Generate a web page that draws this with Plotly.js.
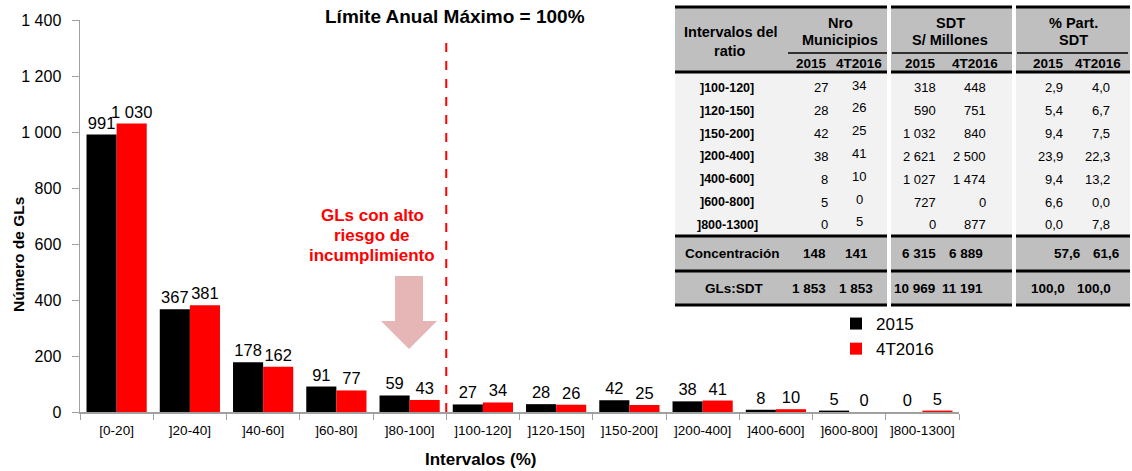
<!DOCTYPE html>
<html>
<head>
<meta charset="utf-8">
<script src="https://cdn.plot.ly/plotly-3.0.1.min.js"></script>
<style>html,body{margin:0;padding:0;background:#fff;}#chart{width:1132px;height:471px;}</style>
</head>
<body>
<div id="chart"></div>
<script>
// ---- Chart data ----
const categories = ["[0-20]","]20-40]","]40-60]","]60-80]","]80-100]","]100-120]","]120-150]","]150-200]","]200-400]","]400-600]","]600-800]","]800-1300]"];
const gls2015 = [991,367,178,91,59,27,28,42,38,8,5,0];
const gls4T2016 = [1030,381,162,77,43,34,26,25,41,10,0,5];
const seriesNames = ["2015","4T2016"];

// ---- Table data ----
const tableIntervals = ["]100-120]","]120-150]","]150-200]","]200-400]","]400-600]","]600-800]","]800-1300]"];
const nroMun2015 = [27,28,42,38,8,5,0];
const nroMun4T2016 = [34,26,25,41,10,0,5];
const sdt2015 = [318,590,1032,2621,1027,727,0];
const sdt4T2016 = [448,751,840,2500,1474,0,877];
const part2015 = [2.9,5.4,9.4,23.9,9.4,6.6,0.0];
const part4T2016 = [4.0,6.7,7.5,22.3,13.2,0.0,7.8];
const concentracion = {label:"Concentración", nro:[148,141], sdt:[6315,6889], part:[57.6,61.6]};
const totalGLs = {label:"GLs:SDT", nro:[1853,1853], sdt:[10969,11191], part:[100.0,100.0]};

// ---- helpers ----
const L=80, R=959, T=20, B=412;
const X = p => (p-L)/(R-L);
const Y = p => (B-p)/(B-T);
function fmtInt(n){ return String(Math.round(n)).replace(/\B(?=(\d{3})+(?!\d))/g,' '); }
function fmtDec(n){ return n.toFixed(1).replace('.',','); }

const FONT = "Liberation Sans, Arial, sans-serif";
const shapes = [];
const annotations = [];
function txt(x,y,text,opt){
  opt = opt||{};
  annotations.push({xref:'paper',yref:'paper',x:X(x),y:Y(y),text:text,showarrow:false,
    xanchor:opt.xa||'center',yanchor:'middle',
    font:{family:FONT,size:opt.size||12.5,color:opt.color||'#000'}});
}
function rect(x0,y0,x1,y1,color){
  shapes.push({type:'rect',xref:'paper',yref:'paper',x0:X(x0),x1:X(x1),y0:Y(y0),y1:Y(y1),
    fillcolor:color,line:{width:0},layer:'above'});
}
function hline(x0,x1,y,w){
  shapes.push({type:'line',xref:'paper',yref:'paper',x0:X(x0),x1:X(x1),y0:Y(y),y1:Y(y),
    line:{color:'#000',width:w},layer:'above'});
}

// ---- table drawing ----
const TL=675, TR=1130;
rect(TL,7,TR,72,'#bfbfbf');
rect(TL,72,TR,236,'#f2f2f2');
rect(TL,236,TR,305,'#bfbfbf');
[7,72,236,271,305].forEach(y=>hline(TL,TR,y,3));
hline(788,887,53,1.5); hline(892,1012,53,1.5); hline(1017,1128,53,1.5);
rect(887,4,891,308,'#ffffff');
rect(1012,4,1016,308,'#ffffff');

const HS = 14.5;
txt(730,32,'<b>Intervalos del</b>',{size:HS}); txt(730,51,'<b>ratio</b>',{size:HS});
txt(840,23,'<b>Nro</b>',{size:HS}); txt(840,40,'<b>Municipios</b>',{size:HS});
txt(950,23,'<b>SDT</b>',{size:HS}); txt(950,40,'<b>S/ Millones</b>',{size:HS});
txt(1073,23,'<b>% Part.</b>',{size:HS}); txt(1073,40,'<b>SDT</b>',{size:HS});
[[811,0],[859,1],[920,0],[975,1],[1048,0],[1098,1]].forEach(([x,i])=>txt(x,63,'<b>'+seriesNames[i]+'</b>',{size:13.5}));

tableIntervals.forEach((lab,i)=>{
  const y = 88 + i*22.8;
  txt(727,y,'<b>'+lab+'</b>');
  txt(830,y,fmtInt(nroMun2015[i]),{xa:'right',size:13});
  txt(859,y-3,fmtInt(nroMun4T2016[i]),{size:13});
  txt(938,y,fmtInt(sdt2015[i]),{xa:'right',size:13});
  txt(988,y,fmtInt(sdt4T2016[i]),{xa:'right',size:13});
  txt(1065,y,fmtDec(part2015[i]),{xa:'right',size:13});
  txt(1112,y,fmtDec(part4T2016[i]),{xa:'right',size:13});
});
function totalRow(row,y,cx,rights){
  txt(cx,y,'<b>'+row.label+'</b>',{size:13.5});
  const vals=[fmtInt(row.nro[0]),fmtInt(row.nro[1]),fmtInt(row.sdt[0]),fmtInt(row.sdt[1]),fmtDec(row.part[0]),fmtDec(row.part[1])];
  vals.forEach((v,k)=>txt(rights[k],y,'<b>'+v+'</b>',{xa:'right',size:13.5}));
}
totalRow(concentracion,254,732,[828,870,938,985,1083,1122]);
totalRow(totalGLs,288,734,[828,875,937,985,1067,1113]);

// ---- chart annotations ----
txt(455,16,'<b>Límite Anual Máximo = 100%</b>',{size:19});
txt(372,215,'<b>GLs con alto</b>',{size:17,color:'#ff0000'});
txt(372,235,'<b>riesgo de</b>',{size:17,color:'#ff0000'});
txt(372,255,'<b>incumplimiento</b>',{size:17,color:'#ff0000'});
txt(480,460,'<b>Intervalos (%)</b>',{size:17});
annotations.push({xref:'paper',yref:'paper',x:X(18),y:Y(255),text:'<b>Número de GLs</b>',textangle:-90,
  showarrow:false,xanchor:'center',yanchor:'middle',font:{family:FONT,size:15.5,color:'#000'}});

// down arrow (block)
const ap = [[395,276],[423,276],[423,321],[437,321],[409,349],[381,321],[395,321]];
shapes.push({type:'path',xref:'paper',yref:'paper',
  path:'M'+ap.map(p=>X(p[0])+','+Y(p[1])).join(' L')+' Z',
  fillcolor:'#e6b5b5',line:{width:0},layer:'above'});

// limit line (between ]80-100] and ]100-120])
shapes.push({type:'line',xref:'x',yref:'y',x0:4.5,x1:4.5,y0:0,y1:1330,
  line:{color:'#ff0000',width:2,dash:'dash'},layer:'above'});

const traces = [
  {type:'bar',name:seriesNames[0],x:categories,y:gls2015,marker:{color:'#000000'},
   texttemplate:'%{y:,d}',textposition:'outside',constraintext:'none',cliponaxis:false,
   textfont:{family:FONT,size:16.5,color:'#000'},hoverinfo:'x+y'},
  {type:'bar',name:seriesNames[1],x:categories,y:gls4T2016,marker:{color:'#ff0000'},
   texttemplate:'%{y:,d}',textposition:'outside',constraintext:'none',cliponaxis:false,
   textfont:{family:FONT,size:16.5,color:'#000'},hoverinfo:'x+y'}
];

const layout = {
  width:1132,height:471,autosize:false,
  margin:{l:L,r:1132-R,t:T,b:471-B},
  paper_bgcolor:'#fff',plot_bgcolor:'#fff',
  separators:', ',
  font:{family:FONT,color:'#000'},
  barmode:'group',bargap:0.178,bargroupgap:0,
  xaxis:{type:'category',tickson:'boundaries',ticks:'outside',ticklen:6,tickcolor:'#a0a0a0',tickangle:0,
    ticklabelstandoff:5,
    showline:true,linecolor:'#a0a0a0',linewidth:1.5,showgrid:false,zeroline:false,
    tickfont:{family:FONT,size:13.5,color:'#000'},automargin:false},
  yaxis:{range:[0,1400],dtick:200,tickformat:',d',ticks:'outside',ticklen:7,tickcolor:'#a0a0a0',
    ticklabelstandoff:7,
    showline:true,linecolor:'#a0a0a0',linewidth:1.5,showgrid:false,zeroline:false,automargin:false,
    tickfont:{family:FONT,size:16,color:'#000'}},
  legend:{x:X(836),y:Y(306),xanchor:'left',yanchor:'top',bgcolor:'rgba(0,0,0,0)',
    font:{family:FONT,size:17,color:'#000'}},
  shapes:shapes,
  annotations:annotations
};

Plotly.newPlot('chart',traces,layout,{displayModeBar:false,staticPlot:true});
</script>
</body>
</html>
